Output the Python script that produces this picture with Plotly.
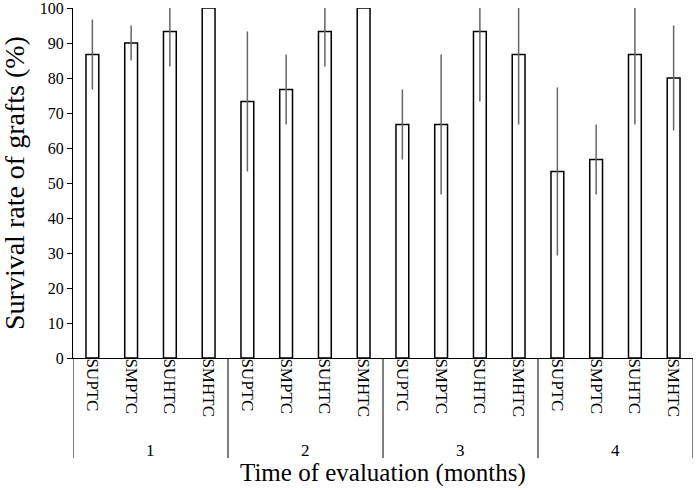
import plotly.graph_objects as go

# data
months = ["1", "2", "3", "4"]
treatments = ["SUPTC", "SMPTC", "SUHTC", "SMHTC"]
survival = [
    [86.7, 90.0, 93.3, 100.0],
    [73.3, 76.7, 93.3, 100.0],
    [66.7, 66.7, 93.3, 86.7],
    [53.3, 56.7, 86.7, 80.0],
]
errors = [
    [10, 5, 10, 0],
    [20, 10, 10, 0],
    [10, 20, 20, 20],
    [24, 10, 20, 15],
]

x = list(range(len(months) * len(treatments)))
y = [v for row in survival for v in row]
err = [e for row in errors for e in row]
labels = treatments * len(months)

font = "Liberation Serif, Times New Roman, serif"

fig = go.Figure(go.Bar(
    x=x, y=y,
    marker=dict(color="white", line=dict(color="black", width=1.5)),
    width=0.33,
    error_y=dict(type="data", array=err, visible=True, color="#666666",
                 thickness=1.5, width=0),
))

fig.update_layout(
    width=697, height=490,
    margin=dict(l=73, r=4, t=8, b=132),
    plot_bgcolor="white", paper_bgcolor="white",
    showlegend=False,
    font=dict(family=font, color="black"),
)

fig.update_yaxes(
    range=[0, 100], dtick=10, showgrid=False, zeroline=False,
    showline=True, linecolor="black", linewidth=1,
    ticks="outside", ticklen=5, tickcolor="black",
    tickfont=dict(size=16), automargin=False, ticklabeloverflow="allow",
)

fig.update_xaxes(
    range=[-0.5, len(x) - 0.5], showgrid=False, zeroline=False,
    showline=True, linecolor="black", linewidth=1,
    tickvals=x, ticktext=labels, tickangle=90, ticks="",
    tickfont=dict(size=17), automargin=False, ticklabelstandoff=-4,
)

# group dividers and month labels
n = len(treatments)
for i in range(len(months) + 1):
    fig.add_shape(type="line", xref="x", yref="paper",
                  x0=i * n - 0.5, x1=i * n - 0.5, y0=0, y1=-0.286,
                  line=dict(color="black", width=1))
for i, m in enumerate(months):
    fig.add_annotation(x=i * n + (n - 1) / 2, y=-0.263, xref="x", yref="paper",
                       text=m, showarrow=False, font=dict(size=17),
                       yanchor="middle")

fig.add_annotation(x=0.5, y=-0.329, xref="paper", yref="paper",
                   text="Time of evaluation (months)", showarrow=False,
                   font=dict(size=25), yanchor="middle")
fig.add_annotation(x=0, y=0.5, xref="paper", yref="paper", xshift=-59,
                   text="Survival rate of grafts (%)", showarrow=False,
                   textangle=-90, font=dict(size=28),
                   xanchor="center", yanchor="middle")

# page body has a default 8px margin; drop it so the figure fills the window
fig.write_html("out.html", config={"displayModeBar": False},
               post_script="document.body.style.margin='0';")
